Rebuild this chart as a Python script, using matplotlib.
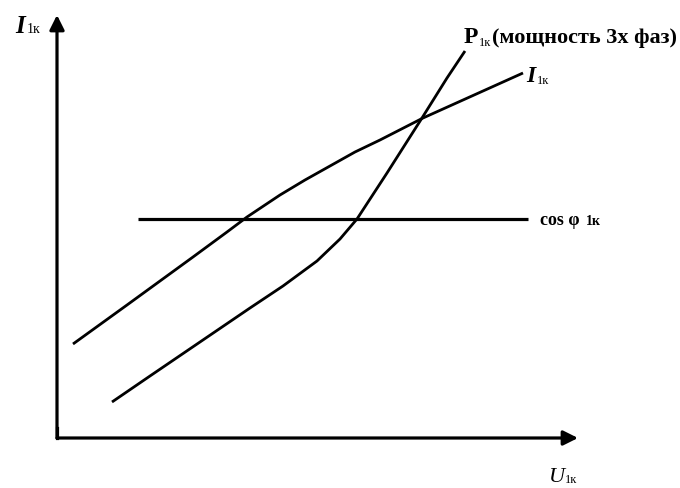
import matplotlib
matplotlib.use("Agg")
import matplotlib.pyplot as plt

plt.rcParams['font.family'] = ['Liberation Serif', 'DejaVu Serif']

# Data (arbitrary units: U1k horizontal, I1k / P1k / cos phi vertical)
i1k_u = [1.6, 7.0, 10.3, 13.6, 17.0, 19.0, 22.3, 24.8, 27.3, 29.8, 32.3, 36.6, 40.6, 46.6]
i1k_v = [9.4, 13.3, 15.7, 18.1, 20.6, 22.1, 24.3, 25.8, 27.2, 28.6, 29.8, 32.0, 33.8, 36.5]

p1k_u = [5.5, 9.3, 14.3, 19.3, 22.6, 26.0, 28.3, 30.0, 33.0, 36.5, 39.0, 40.8]
p1k_v = [3.6, 6.2, 9.6, 13.0, 15.2, 17.7, 19.9, 21.9, 26.5, 32.0, 36.0, 38.7]

cos_u = [8.1, 47.1]
cos_v = [21.9, 21.9]

fig = plt.figure(figsize=(6.8, 4.88), dpi=100)
ax = fig.add_axes([0, 0, 1, 1])
ax.set_xlim(-5.7, 62.3)
ax.set_ylim(-5.0, 43.8)
ax.axis('off')

lw = 2.0
ax.plot(i1k_u, i1k_v, color='black', lw=lw, solid_capstyle='butt', solid_joinstyle='round')
ax.plot(p1k_u, p1k_v, color='black', lw=lw, solid_capstyle='butt', solid_joinstyle='round')
ax.plot(cos_u, cos_v, color='black', lw=2.3, solid_capstyle='butt')

# Axes with arrows
arrow = dict(arrowstyle='-|>', lw=2.3, color='black', mutation_scale=22,
             shrinkA=0, shrinkB=0)
ax.annotate('', xy=(0, 42.3), xytext=(0, 0), arrowprops=arrow)
ax.annotate('', xy=(52.1, 0), xytext=(0, 0), arrowprops=arrow)
ax.plot([0, 0], [0, 1], color='black', lw=2.3)

def px(x, y):
    return ((x - 57) / 10.0, (438 - y) / 10.0)

# Y axis label
ax.text(*px(15, 33), 'I', fontsize=18, style='italic', fontweight='bold',
        ha='left', va='baseline')
ax.text(*px(27, 33), '1к', fontsize=10, ha='left', va='baseline')

# X axis label
ax.text(*px(549, 482), 'U', fontsize=16, style='italic', ha='left', va='baseline')
ax.text(*px(565, 483), '1к', fontsize=9, ha='left', va='baseline')

# P1k label
ax.text(*px(464, 43), 'P', fontsize=17, fontweight='bold', ha='left', va='baseline')
ax.text(*px(479, 46), '1к', fontsize=9, ha='left', va='baseline')
ax.text(*px(492, 43), '(мощность 3х фаз)', fontsize=16, fontweight='bold',
        ha='left', va='baseline')

# I1k label
ax.text(*px(526, 82), 'I', fontsize=17, style='italic', fontweight='bold',
        ha='left', va='baseline')
ax.text(*px(537, 84), '1к', fontsize=9, ha='left', va='baseline')

# cos phi label
ax.text(*px(540, 225), 'cos φ', fontsize=13, fontweight='bold', ha='left', va='baseline')
ax.text(*px(586, 225), '1к', fontsize=10, fontweight='bold', ha='left', va='baseline')

fig.savefig('out.png', dpi=100)
